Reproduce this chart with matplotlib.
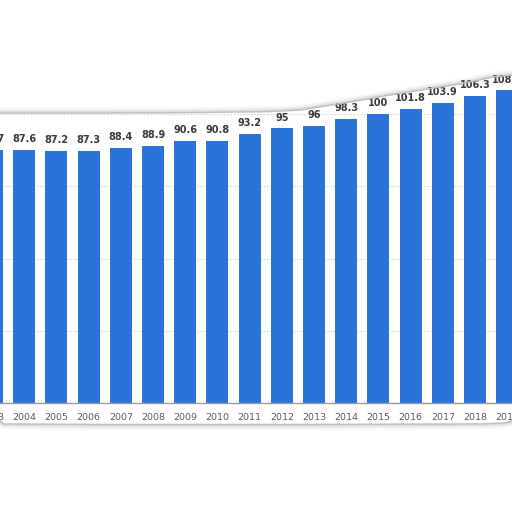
import matplotlib
matplotlib.use("Agg")
import matplotlib.pyplot as plt
import numpy as np
from matplotlib.lines import Line2D

years = [2003, 2004, 2005, 2006, 2007, 2008, 2009, 2010, 2011, 2012,
         2013, 2014, 2015, 2016, 2017, 2018, 2019]
values = [87.7, 87.6, 87.2, 87.3, 88.4, 88.9, 90.6, 90.8, 93.2, 95,
          96, 98.3, 100, 101.8, 103.9, 106.3, 108.2]
grid_values = [25, 50, 75, 100]

W = H = 512
fig = plt.figure(figsize=(5.12, 5.12), dpi=100)
fig.patch.set_facecolor("white")
ax = fig.add_axes([0, 0, 1, 1])
ax.patch.set_visible(False)
for s in ax.spines.values():
    s.set_visible(False)

# pixel mapping helpers
px_per_slot = 32.2
x0_px = -8.0
base_px = 403.0
px_per_unit = 2.89
ax.set_xlim((0 - x0_px) / px_per_slot, (W - x0_px) / px_per_slot)
ax.set_ylim(-(H - base_px) / px_per_unit, base_px / px_per_unit)
ax.set_xticks([])
ax.set_yticks([])

idx = np.arange(len(years))

# card outline (shadowed paper edge) in figure pixel coords
top_x = [0, 100, 200, 270, 300, 350, 390, 427, 460, 493, 512]
top_y = [113, 113, 112.5, 111.5, 110, 102, 95, 89, 84, 77, 75]
bot_x = [0, 4, 100, 300, 480, 505, 512]
bot_y = [421, 424, 424.5, 424.5, 424, 423, 421]

def fig_pts(xs, ys):
    return [x / W for x in xs], [1 - y / H for y in ys]

for off, lw, a in [(-2.5, 4, 0.06), (-1.5, 3, 0.09), (-0.6, 2, 0.15)]:
    fx, fy = fig_pts(top_x, [y + off for y in top_y])
    fig.add_artist(Line2D(fx, fy, color="#888888", lw=lw, alpha=a, zorder=0.5))
fx, fy = fig_pts(top_x, top_y)
fig.add_artist(Line2D(fx, fy, color="#c0c0c0", lw=1.0, zorder=0.6))
for off, lw, a in [(2.5, 4, 0.06), (1.5, 3, 0.09), (0.6, 2, 0.15)]:
    fx, fy = fig_pts(bot_x, [y + off for y in bot_y])
    fig.add_artist(Line2D(fx, fy, color="#888888", lw=lw, alpha=a, zorder=0.5))
fx, fy = fig_pts(bot_x, bot_y)
fig.add_artist(Line2D(fx, fy, color="#c0c0c0", lw=1.0, zorder=0.6))

# grid lines
for g in grid_values:
    ax.axhline(g, color="#d5d5d5", lw=0.8, ls=(0, (1.5, 1.5)), zorder=1)

# bars
ax.bar(idx, values, width=0.68, color="#2B73D9", zorder=2)
ax.axhline(0, color="#9a9a9a", lw=1.0, zorder=3)

# value labels
for i, v in zip(idx, values):
    lab = f"{v:g}"
    ax.text(i, v + 2.0, lab, ha="center", va="bottom", fontsize=7.0,
            fontweight="bold", color="#3a3a3a", zorder=4)

# year labels
for i, y in zip(idx, years):
    ax.text(i, -(418 - base_px) / px_per_unit, str(y), ha="center", va="center",
            fontsize=6.8, color="#5a5a5a", zorder=4)

fig.savefig("out.png", dpi=100, facecolor="white")
